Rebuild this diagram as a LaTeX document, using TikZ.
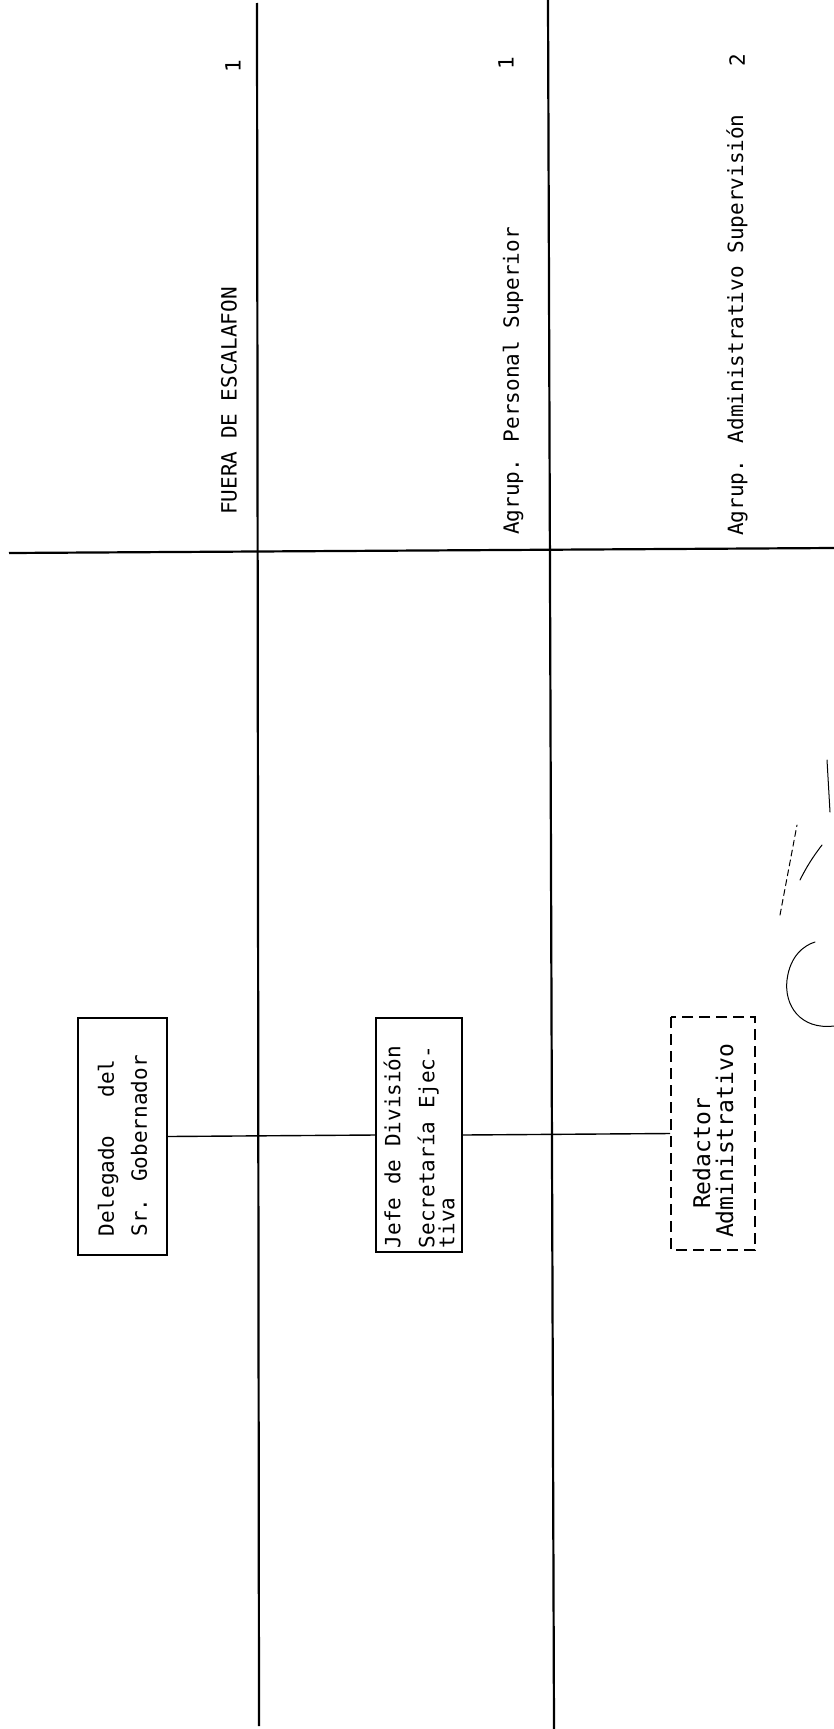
\documentclass[tikz,border=0pt]{standalone}
\usepackage{fontspec}
\newfontfamily\typew[WordSpace={1,0,0}]{DejaVu Sans Mono}
\begin{document}
\begin{tikzpicture}[x=1pt,y=1pt,
  every node/.style={font=\typew\fontsize{21}{25}\selectfont, inner sep=0pt},
  rule/.style={line width=2.2pt},
  orgbox/.style={draw, line width=1.8pt, rotate=90},
  dashbox/.style={draw, line width=1.8pt, rotate=90, dash pattern=on 11pt off 6pt},
  link/.style={line width=1.4pt},
  lab/.style={rotate=90, anchor=west},
  num/.style={rotate=90},
  sig/.style={line width=1.0pt, line cap=round}
]
\useasboundingbox (0,0) rectangle (834,-1729);
\fill[white] (0,0) rectangle (834,-1729);

% grid lines
\coordinate (v1t) at (257,-3);
\coordinate (v1b) at (259,-1726);
\coordinate (v2t) at (548,0);
\coordinate (v2b) at (554,-1729);
\coordinate (hl) at (9,-553);
\coordinate (hr) at (834,-548);
\draw[rule] (v1t) -- (v1b);
\draw[rule] (v2t) -- (v2b);
\draw[rule] (hl) -- (hr);

% header labels
\node[lab] (h1) at (229,-515) {FUERA DE ESCALAFON};
\node[lab] (h2) at (513,-535) {Agrup. Personal Superior};
\node[lab] (h3) at (737,-536) {Agrup. Administrativo Supervisión};
\node[num] (n1) at (233,-66) {1};
\node[num] (n2) at (506,-63) {1};
\node[num] (n3) at (737,-60) {2};

% boxes
\node[orgbox, minimum width=237pt, minimum height=89pt, text width=200pt, align=flush left]
  (b1) at (122.5,-1136.5) {Delegado\ \ \ del\\[8pt]Sr. Gobernador};
\node[orgbox, minimum width=234pt, minimum height=86pt, text width=226pt, align=flush left]
  (b2) at (419,-1135) {Jefe de División\\[9pt]Secretaría Ejec-\\[-5pt]tiva};
\node[dashbox, minimum width=233pt, minimum height=84pt, align=flush center,
  font=\typew\fontsize{23}{23}\selectfont]
  (b3) at (713,-1133.5) {Redactor\hspace*{40pt}\\Administrativo\hspace*{15pt}};

% connectors
\draw[link] (b1.south) -- (b2.north);
\draw[link] (b2.south) -- (b3.north);

% signature
\draw[sig] (834,-1026) .. controls (800,-1030) and (784,-1005) .. (787,-980)
           .. controls (790,-955) and (805,-945) .. (815,-942);
\draw[sig, dash pattern=on 6pt off 4pt] (780,-915) -- (797,-825);
\draw[sig] (800,-880) .. controls (806,-868) and (812,-858) .. (822,-845);
\draw[sig] (827,-760) -- (830,-812);
\end{tikzpicture}
\end{document}
